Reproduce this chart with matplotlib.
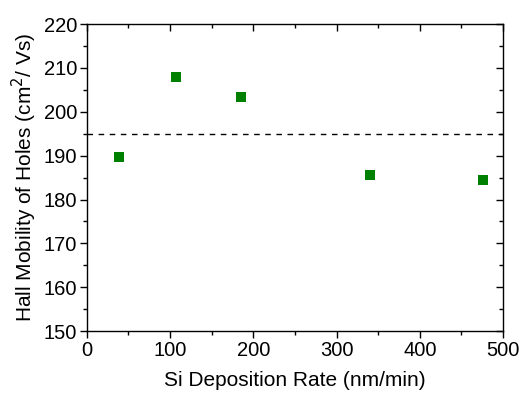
import matplotlib.pyplot as plt
from matplotlib.ticker import MultipleLocator

plt.rcParams['font.family'] = ['Liberation Sans', 'DejaVu Sans']

# datos
rate = [38.5, 106.6, 184.7, 340.0, 475.6]
mobility = [189.75, 207.85, 203.4, 185.6, 184.4]
reference_level = 195

xlim = (0, 500)
ylim = (150, 220)

fig = plt.figure(figsize=(5.23, 3.96), dpi=100)
ax = fig.add_axes([0.166, 0.164, 0.796, 0.775])

ax.plot(rate, mobility, 's', color='#008000', markersize=7, markeredgewidth=0)
ax.axhline(reference_level, color='black', lw=1, dashes=(4, 4))


def set_ticks(a, direction):
    a.set_xlim(*xlim)
    a.set_ylim(*ylim)
    a.xaxis.set_major_locator(MultipleLocator(100))
    a.xaxis.set_minor_locator(MultipleLocator(50))
    a.yaxis.set_major_locator(MultipleLocator(10))
    a.yaxis.set_minor_locator(MultipleLocator(5))
    a.tick_params(which='both', direction=direction, width=1)
    a.tick_params(which='major', length=5)
    a.tick_params(which='minor', length=3)


set_ticks(ax, 'out')
ax.tick_params(labelsize=14.5, pad=2)

# ticks espejo arriba y derecha, hacia dentro
mirror = fig.add_axes(ax.get_position(), frameon=False)
set_ticks(mirror, 'in')
mirror.tick_params(which='both', bottom=False, left=False, top=True, right=True,
                   labelbottom=False, labelleft=False)
mirror.patch.set_visible(False)

for s in ax.spines.values():
    s.set_linewidth(1)

ax.set_xlabel('Si Deposition Rate (nm/min)', fontsize=15, labelpad=8)
ax.set_ylabel('Hall Mobility of Holes (cm$^2$/ Vs)', fontsize=15, labelpad=3)

fig.savefig('out.png', dpi=100)
